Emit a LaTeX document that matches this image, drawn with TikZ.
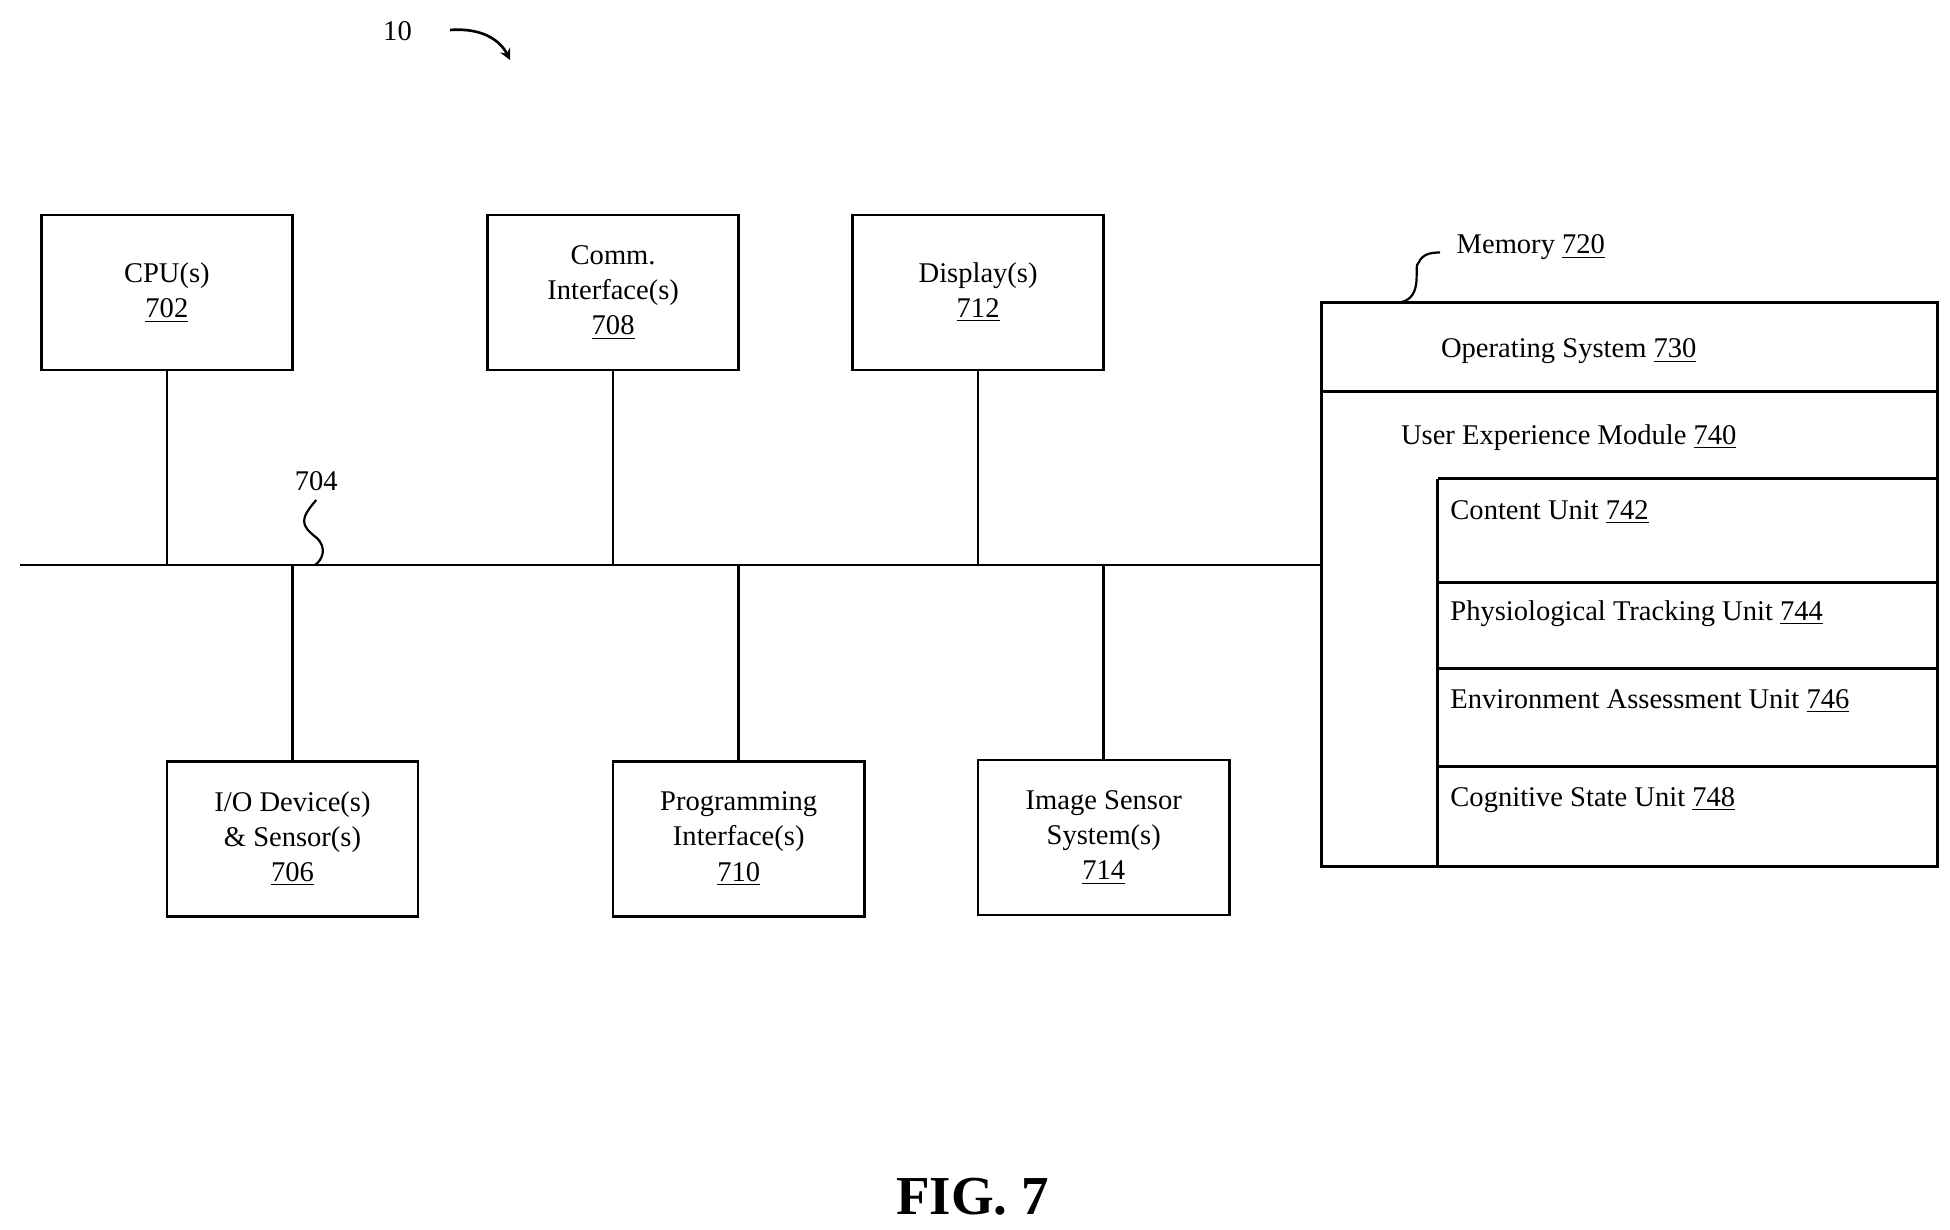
\documentclass[tikz,border=0pt]{standalone}
\usepackage{fontspec}
\setmainfont{Liberation Serif}
\usetikzlibrary{calc}
\tikzset{
box/.style = {draw, line width=1.2pt, minimum width=201*0.02cm, minimum height=124*0.02cm, align=center, inner sep=0pt},
wire/.style = {line width=1.2pt},
lbl/.style = {anchor=west, inner sep=0pt}
}
\begin{document}
\begin{tikzpicture}[x=0.02cm,y=-0.02cm,font=\fontsize{13}{16}\selectfont]
%
\useasboundingbox (0,0) rectangle (1560,984);
%
\node[box] (cpu) at (133.5,234) {CPU(s)\\\underline{702}};
\node[box] (comm) at (490.5,234) {Comm.\\Interface(s)\\\underline{708}};
\node[box] (disp) at (782.5,234) {Display(s)\\\underline{712}};
\node[box] (io) at (234,671) {I/O Device(s)\\\& Sensor(s)\\\underline{706}};
\node[box] (prog) at (591,671) {Programming\\Interface(s)\\\underline{710}};
\node[box] (img) at (883,670) {Image Sensor\\System(s)\\\underline{714}};
%
\coordinate (busL) at (16,452);
\coordinate (busR) at (1057,452);
\draw[wire] (busL) -- (busR);
\foreach \b in {cpu,comm,disp,io,prog,img}{
\draw[wire] (\b) -- (\b |- busL);
}
%
\node[draw, line width=1.2pt, minimum width=493*0.02cm, minimum height=451*0.02cm, inner sep=0pt] (mem) at (1303.5,467.5) {};
\draw[wire] (1057,313) -- (1550,313);
\draw[wire] (1150,383) -- (1550,383);
\draw[wire] (1150,383) -- (1150,693);
\foreach \y in {466,535,613}{\draw[wire] (1150,\y) -- (1550,\y);}
%
\node (os) at (1255,281) {Operating System \underline{730}};
\node (uem) at (1255,350) {User Experience Module \underline{740}};
\node[lbl] (cu) at (1160,410) {Content Unit \underline{742}};
\node[lbl] (ptu) at (1160,491) {Physiological Tracking Unit \underline{744}};
\node[lbl] (eau) at (1160,561) {Environment Assessment Unit \underline{746}};
\node[lbl] (csu) at (1160,640) {Cognitive State Unit \underline{748}};
%
\node[lbl] (memlbl) at (1165,198) {Memory \underline{720}};
\draw[line width=1pt] (1120,242) .. controls (1140,238) and (1130,212) .. (1135,210) .. controls (1138,203) and (1145,202) .. (1152,202);
%
\node (buslbl) at (253,385) {704};
\draw[line width=1pt] (253,400) .. controls (240,415) and (240,420) .. (253,430) .. controls (262,438) and (258,448) .. (252,452);
%
\node (ten) at (318,25) {10};
\draw[line width=1.2pt,-stealth] (360,24) .. controls (385,22) and (400,32) .. (408,48);
%
\node[font=\fontsize{25}{30}\selectfont\bfseries] (fig) at (778,957) {FIG. 7};
\end{tikzpicture}
\end{document}
